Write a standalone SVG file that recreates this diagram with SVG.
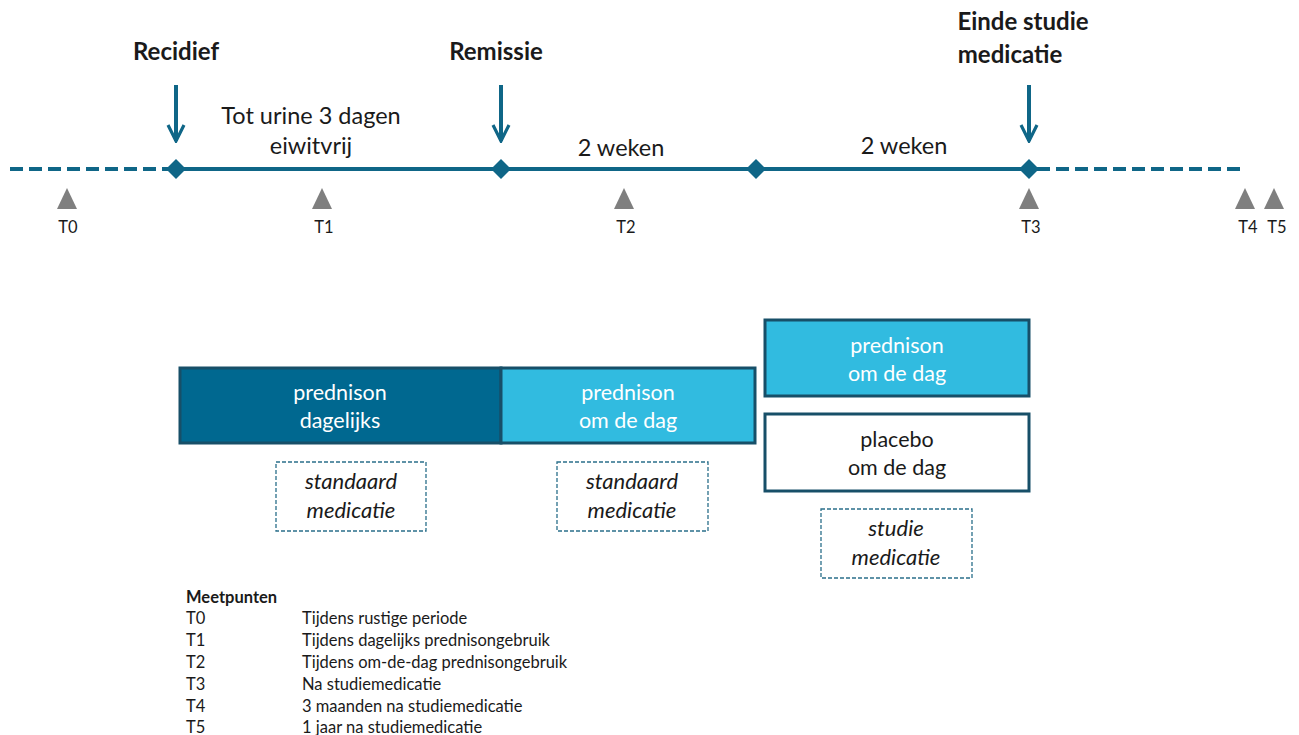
<svg xmlns="http://www.w3.org/2000/svg" width="1299" height="735" viewBox="0 0 1299 735">
<style>
.t{font-family:Lato,"Open Sans","Liberation Sans",sans-serif;fill:#1a1a1a}
.b{font-weight:bold}
.w{fill:#fff}
.i{font-style:italic}
.line{stroke:#0f6687;stroke-width:4;fill:none}
.dash{stroke:#0f6687;stroke-width:4;stroke-dasharray:13,6;fill:none}
.dia{fill:#0f6687}
.tri{fill:#7f7f7f}
.box{stroke:#174f68;stroke-width:3}
.dbox{fill:#fff;stroke:#2a6f8a;stroke-width:1.3;stroke-dasharray:4,2}
</style>
<defs>
<marker id="ah" viewBox="0 0 10 10" refX="9" refY="5" markerWidth="5" markerHeight="5" orient="auto" markerUnits="strokeWidth">
<path d="M1,1 L9,5 L1,9" fill="none" stroke="#0f6687" stroke-width="1.6"/>
</marker>
</defs>
<rect width="1299" height="735" fill="#fff"/>
<g id="connectors">
<line class="dash" x1="10" y1="169" x2="168" y2="169"/>
<line class="line" x1="176" y1="169" x2="1029" y2="169"/>
<line class="dash" x1="1037" y1="169" x2="1245" y2="169"/>
<line class="line" x1="176" y1="85" x2="176" y2="141" marker-end="url(#ah)"/>
<line class="line" x1="501" y1="85" x2="501" y2="141" marker-end="url(#ah)"/>
<line class="line" x1="1029" y1="85" x2="1029" y2="141" marker-end="url(#ah)"/>
</g>
<g id="diamonds">
<path class="dia" d="M176,159 L186,169 L176,179 L166,169Z"/>
<path class="dia" d="M501,159 L511,169 L501,179 L491,169Z"/>
<path class="dia" d="M756,159 L766,169 L756,179 L746,169Z"/>
<path class="dia" d="M1029,159 L1039,169 L1029,179 L1019,169Z"/>
</g>
<g id="labels" class="t" text-anchor="middle">
<text class="t b" x="176" y="60" font-size="24">Recidief</text>
<text class="t b" x="496" y="60" font-size="24">Remissie</text>
<text class="t b" x="1023" y="30" font-size="24">Einde studie</text>
<text class="t b" x="1010" y="63" font-size="24">medicatie</text>
<text class="t" x="311" y="124" font-size="23.5">Tot urine 3 dagen</text>
<text class="t" x="311" y="154" font-size="23.5">eiwitvrij</text>
<text class="t" x="621" y="156" font-size="23.5">2 weken</text>
<text class="t" x="904" y="154" font-size="23.5">2 weken</text>
</g>
<g id="measure-points" class="t" text-anchor="middle" font-size="16.5">
<path class="tri" d="M67,188 L77,209 L57,209Z"/>
<text class="t" x="68" y="233">T0</text>
<path class="tri" d="M322,188 L332,209 L312,209Z"/>
<text class="t" x="324" y="233">T1</text>
<path class="tri" d="M624,188 L634,209 L614,209Z"/>
<text class="t" x="626" y="233">T2</text>
<path class="tri" d="M1029,188 L1039,209 L1019,209Z"/>
<text class="t" x="1031" y="233">T3</text>
<path class="tri" d="M1245,188 L1255,209 L1235,209Z"/>
<text class="t" x="1248" y="233">T4</text>
<path class="tri" d="M1274,188 L1284,209 L1264,209Z"/>
<text class="t" x="1277" y="233">T5</text>
</g>
<g id="box-daily">
<rect class="box" x="180" y="368" width="321" height="75" fill="#006890"/>
<text class="t w" x="340" y="400" font-size="21.5" text-anchor="middle">prednison</text>
<text class="t w" x="340" y="428" font-size="21.5" text-anchor="middle">dagelijks</text>
</g>
<g id="box-alt">
<rect class="box" x="501" y="368" width="254" height="75" fill="#31bbe0"/>
<text class="t w" x="628" y="400" font-size="21.5" text-anchor="middle">prednison</text>
<text class="t w" x="628" y="428" font-size="21.5" text-anchor="middle">om de dag</text>
</g>
<g id="box-study-pred">
<rect class="box" x="765" y="320" width="264" height="76" fill="#31bbe0"/>
<text class="t w" x="897" y="353" font-size="21.5" text-anchor="middle">prednison</text>
<text class="t w" x="897" y="381" font-size="21.5" text-anchor="middle">om de dag</text>
</g>
<g id="box-placebo">
<rect class="box" x="765" y="414" width="264" height="77" fill="#fff"/>
<text class="t" x="897" y="447" font-size="21.5" text-anchor="middle">placebo</text>
<text class="t" x="897" y="475" font-size="21.5" text-anchor="middle">om de dag</text>
</g>
<g id="note-std1">
<rect class="dbox" x="276" y="462" width="150" height="69"/>
<text class="t i" x="351" y="489" font-size="22" text-anchor="middle">standaard</text>
<text class="t i" x="351" y="518" font-size="22" text-anchor="middle">medicatie</text>
</g>
<g id="note-std2">
<rect class="dbox" x="557" y="462" width="151" height="69"/>
<text class="t i" x="632" y="489" font-size="22" text-anchor="middle">standaard</text>
<text class="t i" x="632" y="518" font-size="22" text-anchor="middle">medicatie</text>
</g>
<g id="note-study">
<rect class="dbox" x="821" y="509" width="151" height="69"/>
<text class="t i" x="896" y="536" font-size="22" text-anchor="middle">studie</text>
<text class="t i" x="896" y="565" font-size="22" text-anchor="middle">medicatie</text>
</g>
<g id="legend" class="t" font-size="16.5">
<text class="t b" x="186" y="603" font-size="16.5">Meetpunten</text>
<text class="t" x="186" y="624">T0</text><text class="t" x="302" y="624">Tijdens rustige periode</text>
<text class="t" x="186" y="646">T1</text><text class="t" x="302" y="646">Tijdens dagelijks prednisongebruik</text>
<text class="t" x="186" y="668">T2</text><text class="t" x="302" y="668">Tijdens om-de-dag prednisongebruik</text>
<text class="t" x="186" y="690">T3</text><text class="t" x="302" y="690">Na studiemedicatie</text>
<text class="t" x="186" y="712">T4</text><text class="t" x="302" y="712">3 maanden na studiemedicatie</text>
<text class="t" x="186" y="733">T5</text><text class="t" x="302" y="733">1 jaar na studiemedicatie</text>
</g>
</svg>
